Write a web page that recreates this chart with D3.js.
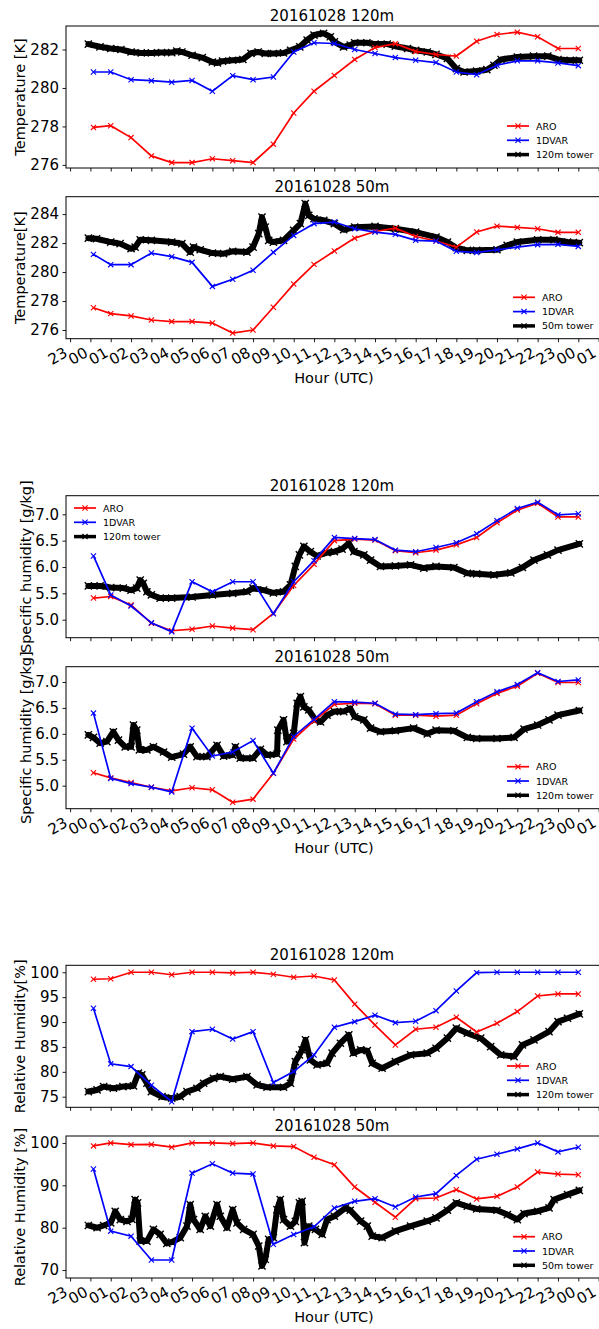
<!DOCTYPE html>
<html><head><meta charset="utf-8">
<script src="https://cdn.jsdelivr.net/npm/d3@7"></script>
<style>body{margin:0;background:#fff} text{font-family:"DejaVu Sans",sans-serif;fill:#000}</style>
</head><body><svg id="c" width="599" height="1329"></svg>
<script>
// ---------- data ----------
const modelHours = [0.15,1,2,3,4,5,6,7,8,9,10,11,12,13,14,15,16,17,18,19,20,21,22,23,24];
const hourTicks = [-1,0,1,2,3,4,5,6,7,8,9,10,11,12,13,14,15,16,17,18,19,20,21,22,23,24,25];
const hourTickLabels = ["23","00","01","02","03","04","05","06","07","08","09","10","11","12","13","14","15","16","17","18","19","20","21","22","23","00","01"];
const seriesNames = ["ARO","1DVAR"];

const aroT120 = [277.95,278.04,277.42,276.47,276.12,276.12,276.32,276.22,276.12,277.08,278.7,279.83,280.65,281.48,282.1,282.3,281.9,281.74,281.66,282.43,282.78,282.9,282.66,282.05,282.05];
const varT120 = [280.83,280.83,280.43,280.38,280.3,280.39,279.83,280.64,280.43,280.57,281.87,282.35,282.31,282.0,281.79,281.58,281.44,281.32,280.83,280.69,281.18,281.41,281.41,281.3,281.16];
const towerT120Hours = [-0.1,0.47,1,1.5,2,2.5,3,3.5,4,4.25,4.5,5,5.5,6,6.25,6.5,7,7.5,7.9,8.25,8.6,9,9.5,9.85,10.3,10.66,11,11.47,11.8,12,12.45,12.78,13,13.6,14,14.6,15,15.6,16,16.57,17,17.56,18,18.38,19,19.5,19.85,20.2,21,21.8,22.5,23,23.6,24.05];
const towerT120 = [282.28,282.14,282.05,282.0,281.87,281.82,281.82,281.84,281.84,281.91,281.87,281.7,281.58,281.35,281.3,281.39,281.44,281.48,281.8,281.87,281.79,281.79,281.82,281.96,282.14,282.49,282.75,282.84,282.66,282.4,282.14,282.23,282.35,282.35,282.28,282.28,282.17,282.05,281.96,281.87,281.75,281.53,281.0,280.83,280.88,280.95,281.18,281.48,281.61,281.65,281.65,281.48,281.44,281.44];

const aroT50 = [277.54,277.13,276.97,276.69,276.58,276.58,276.48,275.79,276.0,277.57,279.17,280.53,281.45,282.34,282.8,283.03,282.45,282.14,281.72,282.76,283.17,283.08,282.99,282.74,282.74];
const varT50 = [281.22,280.51,280.51,281.31,281.06,280.67,279.01,279.5,280.12,281.36,282.53,283.34,283.45,282.99,282.76,282.6,282.19,282.14,281.43,281.34,281.54,281.72,281.89,281.91,281.77];
const towerT50Hours = [-0.1,0.3,1,1.46,2,2.2,2.45,3,4,4.5,4.91,5.07,5.4,6,6.55,7,7.7,8,8.28,8.44,8.6,8.77,9,9.5,10,10.33,10.57,10.74,11,11.48,12,12.46,13,14,15,16,17,17.56,18,18.54,19,20,20.5,21,22,22.8,23.47,24.05];
const towerT50 = [282.34,282.3,282.07,281.96,281.61,281.72,282.23,282.19,282.07,281.96,281.38,281.72,281.54,281.31,281.27,281.43,281.38,281.72,282.65,283.79,283.1,282.19,282.07,282.19,282.88,283.34,284.72,283.91,283.68,283.57,283.34,282.92,283.1,283.15,282.99,282.76,282.41,282.07,281.68,281.5,281.5,281.54,281.84,282.07,282.23,282.23,282.07,282.03];

const aroQ120 = [5.41,5.44,5.28,4.93,4.79,4.82,4.88,4.84,4.81,5.12,5.65,6.05,6.5,6.53,6.51,6.31,6.27,6.32,6.42,6.56,6.84,7.08,7.21,6.95,6.95];
const varQ120 = [6.21,5.47,5.26,4.94,4.77,5.72,5.53,5.72,5.72,5.11,5.72,6.12,6.56,6.54,6.52,6.32,6.29,6.37,6.46,6.63,6.88,7.11,7.23,6.99,7.01];
const towerQ120Hours = [-0.1,0.48,1,1.62,2,2.28,2.45,2.6,2.78,3,3.43,4,5,6,7,7.7,8,8.52,9,9.5,9.84,10.08,10.28,10.5,10.82,11.15,11.64,12,12.38,12.71,12.96,13.45,13.78,14.27,15,15.75,16.4,17,17.88,18.54,19,19.85,20.68,21.25,21.82,22.48,23,24.05];
const towerQ120 = [5.64,5.64,5.61,5.6,5.56,5.6,5.75,5.69,5.53,5.47,5.41,5.41,5.43,5.47,5.5,5.53,5.6,5.56,5.51,5.53,5.66,6.01,6.23,6.39,6.29,6.21,6.27,6.29,6.34,6.45,6.29,6.23,6.13,6.01,6.02,6.04,5.98,6.01,5.99,5.88,5.87,5.85,5.89,5.99,6.13,6.23,6.32,6.44];

const aroQ50 = [5.25,5.15,5.06,4.97,4.9,4.96,4.92,4.68,4.74,5.24,5.9,6.25,6.57,6.59,6.58,6.36,6.36,6.34,6.36,6.58,6.78,6.92,7.17,6.99,6.99];
const varQ50 = [6.4,5.14,5.04,4.97,4.88,6.11,5.57,5.65,5.87,5.24,5.95,6.28,6.62,6.61,6.59,6.38,6.37,6.39,6.4,6.62,6.81,6.95,7.18,7.01,7.04];
const towerQ50Hours = [-0.1,0.15,0.48,0.81,1.13,1.38,1.71,2,2.12,2.28,2.41,2.78,3.1,3.6,4,4.58,4.91,5.24,5.73,6.23,6.55,7,7.13,7.37,8,8.36,8.69,9.18,9.22,9.5,9.67,10,10.17,10.33,10.5,10.74,11.07,11.32,11.64,12,12.46,12.78,13,13.45,13.78,14.27,15,15.9,16.57,17,17.88,18.54,19,20,20.84,21.33,22,22.56,23,24.05];
const towerQ50 = [5.98,5.93,5.82,5.85,6.04,5.88,5.75,5.75,6.17,6.07,5.69,5.69,5.75,5.65,5.55,5.61,5.75,5.56,5.56,5.78,5.57,5.59,5.75,5.53,5.53,5.7,5.59,5.61,6.07,6.27,5.85,6.01,6.59,6.72,6.52,6.46,6.27,6.23,6.36,6.43,6.43,6.49,6.33,6.27,6.11,6.04,6.06,6.11,6.0,6.07,6.06,5.93,5.91,5.91,5.93,6.09,6.17,6.27,6.36,6.45];

const aroRH120 = [98.6,98.7,100.0,100.0,99.5,100.0,100.0,99.86,100.0,99.6,99.0,99.25,98.45,93.6,89.4,85.4,88.55,88.95,90.96,88.0,89.75,92.1,95.24,95.64,95.64];
const varRH120 = [92.77,81.6,81.05,77.3,74.0,88.07,88.55,86.6,88.07,77.84,80.05,83.4,88.95,90.08,91.36,89.88,90.16,92.29,96.24,99.93,100,100,100,100,100];
const towerRH120Hours = [-0.1,0.33,0.65,1.13,1.6,2.12,2.36,2.53,2.78,3,3.52,4,4.42,4.75,5.24,5.57,6.06,6.39,7,7.7,8.2,8.69,9.5,9.84,10.08,10.28,10.41,10.58,10.82,11.15,11.64,11.89,12.3,12.71,12.93,13.29,13.62,13.86,14.35,15,15.75,16.57,17,17.56,18,18.54,19.2,19.69,20.18,20.84,21.25,21.82,22.56,23,23.47,24.05];
const towerRH120 = [76.03,76.36,77.03,76.7,77.03,77.17,79.72,79.38,77.7,76.03,75.0,74.7,75.0,76.03,76.7,77.7,78.7,79.04,78.5,79.04,77.37,76.9,76.9,77.7,82.05,83.4,84.4,86.4,82.4,81.4,81.7,83.74,85.74,87.41,83.74,84.4,84.26,81.72,80.72,82.05,83.4,83.74,84.74,86.75,88.76,87.75,86.75,85.06,83.4,83.06,85.4,86.4,88.07,90.08,90.76,91.63];

const aroRH50 = [99.3,100.0,99.6,99.65,99.0,100,100,99.85,100,99.3,99.15,96.64,94.84,89.6,85.99,82.47,86.85,87.0,88.97,86.78,87.4,89.6,93.12,92.65,92.49];
const varRH50 = [93.83,79.18,78.0,72.37,72.37,92.88,95.07,92.88,92.65,76.06,78.4,80.2,84.67,86.22,86.85,84.9,87.25,88.03,92.33,96.17,97.34,98.59,100.0,97.89,98.99];
const towerRH50Hours = [-0.1,0.33,0.65,1,1.22,1.47,1.8,2.04,2.2,2.32,2.45,2.78,3.1,3.43,3.76,4,4.42,4.75,4.91,5.07,5.4,5.65,5.9,6.23,6.39,6.72,7,7.21,7.54,8,8.28,8.44,8.6,8.77,9,9.18,9.34,9.5,9.84,10.08,10.28,10.41,10.53,10.74,11.07,11.4,11.64,12,12.55,12.78,13.29,13.62,13.86,14.35,15,15.75,16.57,17,17.56,18,18.54,19,20,20.51,21,21.33,22,22.56,22.81,23.47,24.05];
const towerRH50 = [80.52,79.98,80.52,81.15,83.88,81.9,81.5,81.98,86.62,85.84,76.83,76.83,79.58,78.4,76.29,76.6,77.63,80.35,85.45,81.92,79.58,82.7,80.35,85.45,82.7,79.98,84.27,81.15,79.58,78.4,75.67,70.97,72.54,77.23,77.63,84.27,86.62,81.92,80.35,81.5,85.84,86.22,76.45,80.35,79.58,78.4,81.92,82.7,84.67,84.11,81.53,80.35,78.0,77.63,79.18,80.35,81.53,82.32,84.11,85.84,85.05,84.43,84.11,83.1,81.92,83.33,83.88,84.67,86.62,87.79,88.8];

// ---------- layout ----------
const svg = d3.select("#c");
const left = 66, plotH = 142;
const x = d3.scaleLinear().domain([-1.2, 25.2]).range([left, left + 26.4 * 20.33]);
const RED = "#ff0000", BLUE = "#0000ff", BLACK = "#000000";

const panels = [
  {top:26, title:"20161028 120m", ylabel:"Temperature [K]", dom:[275.84,283.22], ticks:[276,278,280,282], fmt:d3.format("d"),
   aro:aroT120, v:varT120, th:towerT120Hours, tv:towerT120, tower:"120m tower", leg:[507,126], xlab:false, ylx:19.5},
  {top:196.7, title:"20161028 50m", ylabel:"Temperature[K]", dom:[275.4,285.2], ticks:[276,278,280,282,284], fmt:d3.format("d"),
   aro:aroT50, v:varT50, th:towerT50Hours, tv:towerT50, tower:"50m tower", leg:[513,297.3], xlab:true, ylx:19.5},
  {top:495.7, title:"20161028 120m", ylabel:"Specific humidity [g/kg]", dom:[4.658,7.353], ticks:[5.0,5.5,6.0,6.5,7.0], fmt:d3.format(".1f"),
   aro:aroQ120, v:varQ120, th:towerQ120Hours, tv:towerQ120, tower:"120m tower", leg:[74,508], xlab:false, ylx:26},
  {top:666.7, title:"20161028 50m", ylabel:"Specific humidity [g/kg]", dom:[4.556,7.295], ticks:[5.0,5.5,6.0,6.5,7.0], fmt:d3.format(".1f"),
   aro:aroQ50, v:varQ50, th:towerQ50Hours, tv:towerQ50, tower:"120m tower", leg:[507,766.7], xlab:true, ylx:26},
  {top:965.3, title:"20161028 120m", ylabel:"Relative Humidity[%]", dom:[72.87,101.4], ticks:[75,80,85,90,95,100], fmt:d3.format("d"),
   aro:aroRH120, v:varRH120, th:towerRH120Hours, tv:towerRH120, tower:"120m tower", leg:[507,1066], xlab:false, ylx:19.5},
  {top:1136, title:"20161028 50m", ylabel:"Relative Humidity [%]", dom:[68.12,101.64], ticks:[70,80,90,100], fmt:d3.format("d"),
   aro:aroRH50, v:varRH50, th:towerRH50Hours, tv:towerRH50, tower:"50m tower", leg:[513,1236.7], xlab:true, ylx:19.5},
];

function xMarker(sel, cx, cy, s, color, sw) {
  sel.append("path")
    .attr("d", `M${cx-s},${cy-s}L${cx+s},${cy+s}M${cx-s},${cy+s}L${cx+s},${cy-s}`)
    .attr("stroke", color).attr("stroke-width", sw).attr("fill", "none");
}

panels.forEach(p => {
  const y = d3.scaleLinear().domain(p.dom).range([p.top + plotH, p.top]);
  const g = svg.append("g");
  const bottom = p.top + plotH;

  g.append("text").attr("x", 332).attr("y", p.top - 5).attr("text-anchor", "middle")
    .attr("font-size", 15).text(p.title);

  const cid = "clip" + Math.round(p.top);
  svg.append("clipPath").attr("id", cid).append("rect")
    .attr("x", left).attr("y", p.top).attr("width", 600).attr("height", plotH);
  const pl = g.append("g").attr("clip-path", `url(#${cid})`);

  const line = d3.line().x(d => x(d[0])).y(d => y(d[1]));

  // tower
  const tdat = p.th.map((h, i) => [h, p.tv[i]]);
  pl.append("path").attr("d", line(tdat)).attr("fill", "none").attr("stroke", BLACK)
    .attr("stroke-width", 6).attr("stroke-linejoin", "round").attr("stroke-linecap", "round");
  tdat.forEach(d => xMarker(pl, x(d[0]), y(d[1]), 3.6, BLACK, 1.4));

  // models
  [[p.aro, RED], [p.v, BLUE]].forEach(([vals, col]) => {
    const dat = modelHours.map((h, i) => [h, vals[i]]);
    pl.append("path").attr("d", line(dat)).attr("fill", "none").attr("stroke", col).attr("stroke-width", 1.7);
    dat.forEach(d => xMarker(pl, x(d[0]), y(d[1]), 2.6, col, 1.1));
  });

  g.append("rect").attr("x", left).attr("y", p.top).attr("width", 600).attr("height", plotH)
    .attr("fill", "none").attr("stroke", "#000").attr("stroke-width", 1);

  const xa = d3.axisBottom(x).tickValues(hourTicks).tickSize(3.5).tickPadding(3)
    .tickFormat((d, i) => p.xlab ? hourTickLabels[i] : "");
  const xg = g.append("g").attr("transform", `translate(0,${bottom})`).call(xa);
  xg.select(".domain").remove();
  xg.selectAll("line").attr("stroke", "#000").attr("stroke-width", 0.9);
  xg.selectAll("text").attr("font-size", 15).attr("text-anchor", "end")
    .attr("dy", null).attr("y", null)
    .attr("transform", "translate(-2,17) rotate(-30)");

  const ya = d3.axisLeft(y).tickValues(p.ticks).tickFormat(p.fmt).tickSize(3.5).tickPadding(3.5);
  const yg = g.append("g").attr("transform", `translate(${left},0)`).call(ya);
  yg.select(".domain").remove();
  yg.selectAll("line").attr("stroke", "#000").attr("stroke-width", 0.9);
  yg.selectAll("text").attr("font-size", 15);

  g.append("text").attr("transform", `translate(${p.ylx + 5},${p.top + plotH / 2}) rotate(-90)`)
    .attr("text-anchor", "middle").attr("font-size", 14.5).text(p.ylabel);

  if (p.xlab) {
    g.append("text").attr("x", 334).attr("y", bottom + 44).attr("text-anchor", "middle")
      .attr("font-size", 14.5).text("Hour (UTC)");
  }

  const names = [seriesNames[0], seriesNames[1], p.tower];
  const cols = [RED, BLUE, BLACK];
  const widths = [1.7, 1.7, 3.5];
  names.forEach((n, i) => {
    const ly = p.leg[1] + i * 14.3;
    const lx = p.leg[0];
    g.append("line").attr("x1", lx).attr("x2", lx + 22).attr("y1", ly).attr("y2", ly)
      .attr("stroke", cols[i]).attr("stroke-width", widths[i]);
    xMarker(g, lx + 11, ly, 2.6, cols[i], 1.1);
    g.append("text").attr("x", lx + 29).attr("y", ly + 3.5).attr("font-size", 9.5).text(n);
  });
});
</script></body></html>
